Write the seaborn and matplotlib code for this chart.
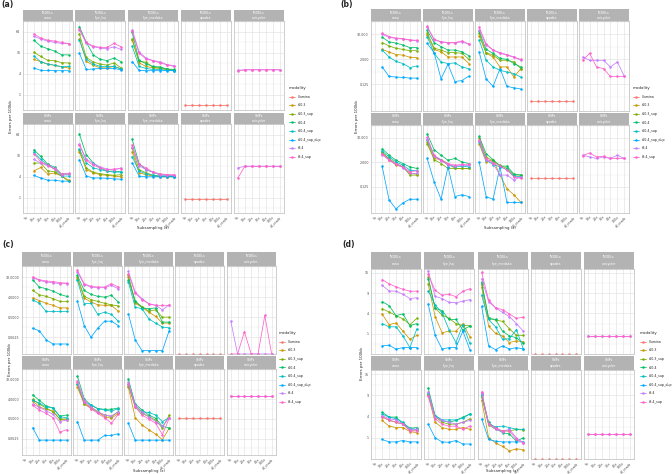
import numpy as np
import pandas as pd
import matplotlib
matplotlib.use("Agg")
import matplotlib.pyplot as plt
from matplotlib.lines import Line2D
from matplotlib.ticker import FixedLocator, NullFormatter
import seaborn as sns

SUBSAMPLING = ["5x", "10x", "20x", "30x", "40x", "100x", "all_reads"]
MODALITIES = ["Illumina", "r10.3", "r10.3_sup", "r10.4", "r10.4_sup",
              "r10.4_sup_dup", "r9.4", "r9.4_sup"]
COLORS = ["#F8766D", "#CD9600", "#7CAE00", "#00BE67", "#00BFC4",
          "#00A9FF", "#C77CFF", "#FF61CC"]
PALETTE = dict(zip(MODALITIES, COLORS))
TOOLS = ["canu", "flye_hq", "flye_medaka", "spades", "unicycler"]
VARIANTS = ["INDELs", "SNPs"]

# ---------------- (a) ----------------
a_indel_canu = {"r10.3": [10.4, 8.9, 7.5, 7.0, 6.3, 5.9],
                "r10.3_sup": [16.6, 12.6, 9.7, 9.6, 8.3, 8.2],
                "r10.4": [37, 25, 21, 18, 14, 14],
                "r10.4_sup": [13.2, 8.8, 7.6, 7.0, 6.4, 6.5],
                "r10.4_sup_dup": [5.9, 5.0, 5.0, 4.9, 4.9, 4.9],
                "r9.4": [48, 40, 35, 32, 30, 29.5],
                "r9.4_sup": [56, 43, 37, 35, 32, 29.5]}
a_indel_flye_hq = {"r10.3": [41, 9.1, 7.0, 5.9, 5.9, 6.5, 5.5],
                   "r10.3_sup": [57, 11.8, 8.7, 7.6, 7.1, 8.2, 5.9],
                   "r10.4": [92, 32, 14, 10.4, 9.6, 11.3, 8.9],
                   "r10.4_sup": [37, 10.6, 7.6, 6.5, 6.5, 6.5, 5.5],
                   "r10.4_sup_dup": [15.6, 5.3, 5.5, 5.7, 5.7, 5.7, 5.2],
                   "r9.4": [75, 30, 24, 22, 21, 24, 20],
                   "r9.4_sup": [79, 32, 25, 23, 23, 30, 24]}
a_indel_flye_medaka = {"r10.3": [38, 8.2, 6.5, 5.9, 5.7, 5.3, 5.0],
                       "r10.3_sup": [41, 9.1, 8.6, 6.1, 5.9, 5.3, 5.0],
                       "r10.4": [62, 9.7, 7.8, 6.5, 6.3, 5.5, 5.3],
                       "r10.4_sup": [25, 6.5, 5.7, 5.3, 5.3, 5.0, 4.9],
                       "r10.4_sup_dup": [9.0, 5.0, 4.9, 4.9, 4.9, 4.9, 4.9],
                       "r9.4": [75, 17, 11.3, 9.6, 8.9, 7.3, 6.9],
                       "r9.4_sup": [68, 15.6, 10.6, 9.6, 8.2, 7.3, 6.5]}
a_indel_spades = {"Illumina": [0.49] * 7}
a_indel_unicycler = {"r9.4": [5.0, 5.2, 5.2, 5.2, 5.2, 5.2, 5.2],
                     "r9.4_sup": [4.8, 5.2, 5.2, 5.2, 5.2, 5.2, 5.2]}
a_snp_canu = {"r10.3": [5.9, 7.4, 4.8, 5.1, 4.2, 3.2],
              "r10.3_sup": [9.9, 9.9, 5.9, 5.6, 4.2, 3.0],
              "r10.4": [24, 15.3, 9.2, 7.5, 4.8, 4.8],
              "r10.4_sup": [20, 12.6, 8.6, 6.6, 4.2, 4.2],
              "r10.4_sup_dup": [4.4, 3.7, 3.2, 3.2, 3.0, 3.0],
              "r9.4": [12.6, 9.9, 8.3, 7.0, 4.5, 4.8],
              "r9.4_sup": [18.5, 10.7, 8.6, 6.6, 4.8, 5.0]}
a_snp_flye_hq = {"r10.3": [21, 6.4, 5.2, 4.6, 4.4, 4.2, 4.0],
                 "r10.3_sup": [23, 7.2, 5.4, 4.9, 4.6, 4.4, 4.6],
                 "r10.4": [67, 17, 10, 7.2, 5.8, 5.8, 5.5],
                 "r10.4_sup": [24.5, 10, 7.2, 6.4, 5.8, 5.4, 5.5],
                 "r10.4_sup_dup": [12.3, 4.2, 3.7, 3.7, 3.6, 3.5, 3.4],
                 "r9.4": [34, 12.8, 9.6, 7.6, 6.7, 6.2, 7.2],
                 "r9.4_sup": [33, 11.8, 8.6, 7.2, 6.4, 6.7, 6.9]}
a_snp_flye_medaka = {"r10.3": [21, 5.2, 4.6, 4.2, 4.0, 4.0, 4.0],
                     "r10.3_sup": [26, 6.4, 5.2, 4.4, 4.2, 4.0, 4.2],
                     "r10.4": [47, 9.6, 6.4, 5.4, 4.6, 4.4, 4.2],
                     "r10.4_sup": [15, 5.8, 4.9, 4.4, 4.2, 4.2, 4.0],
                     "r10.4_sup_dup": [10, 4.2, 4.0, 4.0, 4.0, 4.0, 4.0],
                     "r9.4": [29, 8.3, 6.4, 5.4, 4.6, 4.4, 4.4],
                     "r9.4_sup": [33, 9.0, 7.2, 5.4, 4.9, 4.6, 4.6]}
a_snp_spades = {"Illumina": [0.9] * 7}
a_snp_unicycler = {"r9.4": [7.2, 8, 8, 8, 8, 8, 8],
                   "r9.4_sup": [3.7, 8, 8, 8, 8, 8, 8]}

# ---------------- (b) ----------------
b_indel_canu = {"r10.3": [6.0, 4.5, 3.4, 3.2, 2.5, 2.4],
                "r10.3_sup": [12.8, 8.8, 6.8, 6.0, 5.2, 5.2],
                "r10.4": [23, 14, 12, 9.8, 7.3, 7.3],
                "r10.4_sup": [5.6, 2.6, 1.6, 1.25, 0.8, 0.96],
                "r10.4_sup_dup": [0.86, 0.3, 0.28, 0.27, 0.25, 0.25],
                "r9.4": [32, 23, 20, 19, 16.6, 16],
                "r9.4_sup": [36, 25, 21, 20, 17, 16.6]}
b_indel_flye_hq = {"r10.3": [30, 6.0, 4.6, 2.6, 2.6, 2.6, 1.25],
                   "r10.3_sup": [39, 6.8, 5.6, 4.2, 4.2, 3.9, 2.0],
                   "r10.4": [49, 12.8, 8.2, 5.6, 5.6, 4.6, 3.0],
                   "r10.4_sup": [25, 3.9, 1.5, 1.25, 1.35, 0.86, 0.71],
                   "r10.4_sup_dup": [11.8, 4.2, 0.23, 1.16, 0.17, 0.19, 0.31],
                   "r9.4": [71, 17, 13.8, 12.3, 12.3, 14, 10.6],
                   "r9.4_sup": [77, 18.6, 14, 12.8, 12.8, 15.4, 11]}
b_indel_flye_medaka = {"r10.3": [27, 3.9, 2.6, 0.86, 0.86, 0.28, 0.71],
                       "r10.3_sup": [36, 4.2, 3.2, 1.8, 1.8, 1.5, 0.71],
                       "r10.4": [44, 6.0, 3.9, 2.2, 2.0, 1.25, 0.86],
                       "r10.4_sup": [17, 1.8, 0.86, 0.59, 0.49, 0.41, 0.28],
                       "r10.4_sup_dup": [4.6, 0.23, 0.1, 0.71, 0.1, 0.085, 0.075],
                       "r9.4": [53, 9.8, 5.6, 4.2, 3.4, 2.6, 1.8],
                       "r9.4_sup": [71, 11, 5.6, 3.9, 3.2, 2.5, 2.0]}
b_indel_spades = {"Illumina": [0.02] * 7}
b_indel_unicycler = {"r9.4": [2.6, 1.8, 1.8, 1.8, 0.86, 1.5, 0.3],
                     "r9.4_sup": [1.8, 3.9, 0.86, 0.71, 0.3, 0.3, 0.3]}
b_snp_canu = {"r10.3": [6.5, 2.75, 1.45, 1.2, 0.57, 0.53],
              "r10.3_sup": [5.8, 3.1, 1.75, 1.2, 0.47, 0.47],
              "r10.4": [9.5, 4.5, 2.55, 1.75, 1.2, 1.0],
              "r10.4_sup": [7.3, 3.7, 2.1, 1.45, 0.83, 0.77],
              "r10.4_sup_dup": [1.3, 0.028, 0.01, 0.02, 0.03, 0.03],
              "r9.4": [4.8, 2.55, 1.6, 1.1, 0.57, 0.57],
              "r9.4_sup": [5.4, 2.75, 1.75, 1.2, 0.69, 0.77]}
b_snp_flye_hq = {"r10.3": [20, 3.1, 2.75, 1.75, 1.0, 1.0, 1.0],
                 "r10.3_sup": [16.6, 2.75, 1.75, 1.0, 1.0, 1.0, 1.0],
                 "r10.4": [51, 8.5, 4.5, 2.55, 3.1, 2.1, 1.75],
                 "r10.4_sup": [26, 4.0, 2.75, 1.45, 1.2, 1.3, 1.2],
                 "r10.4_sup_dup": [3.1, 0.22, 0.03, 1.2, 0.041, 0.05, 0.041],
                 "r9.4": [29, 4.0, 2.35, 1.55, 1.3, 1.4, 1.4],
                 "r9.4_sup": [35, 4.5, 2.55, 1.75, 1.45, 1.6, 1.6]}
b_snp_flye_medaka = {"r10.3": [16.6, 2.1, 2.75, 0.47, 0.1, 0.05, 0.021],
                     "r10.3_sup": [33, 3.7, 2.35, 1.45, 1.0, 0.47, 0.47],
                     "r10.4": [38, 5.4, 2.75, 1.3, 1.3, 0.53, 0.47],
                     "r10.4_sup": [20, 2.55, 1.55, 1.2, 0.89, 0.42, 0.39],
                     "r10.4_sup_dup": [2.1, 0.041, 0.03, 1.2, 0.021, 0.021, 0.021],
                     "r9.4": [24, 2.75, 1.75, 0.47, 0.47, 0.27, 0.39],
                     "r9.4_sup": [26, 3.1, 1.95, 1.35, 0.83, 0.39, 0.32]}
b_snp_spades = {"Illumina": [0.35] * 7}
b_snp_unicycler = {"r9.4": [4.5, 3.7, 3.1, 3.7, 3.1, 4.5, 3.1],
                   "r9.4_sup": [4.3, 5.8, 3.7, 4.0, 3.1, 3.1, 3.1]}

# ---------------- (c) ----------------
c_indel_canu = {"r10.3": [3.6, 2.8, 2.1, 1.7, 1.3, 1.3],
                "r10.3_sup": [8.0, 5.1, 4.3, 3.4, 2.55, 2.55],
                "r10.4": [24, 11.3, 9.5, 7.5, 5.3, 4.3],
                "r10.4_sup": [3.0, 2.1, 0.9, 0.9, 0.9, 0.9],
                "r10.4_sup_dup": [0.16, 0.12, 0.048, 0.031, 0.031, 0.031],
                "r9.4": [30, 22.6, 19, 17.7, 16, 16],
                "r9.4_sup": [32, 24, 21, 20, 17.7, 17]}
c_indel_flye_hq = {"r10.3": [27, 3.6, 2.4, 1.8, 1.7, 1.7, 0.93],
                   "r10.3_sup": [32, 4.3, 3.1, 2.55, 2.1, 1.8, 1.6],
                   "r10.4": [38, 8.0, 5.3, 4.3, 4.0, 4.8, 2.4],
                   "r10.4_sup": [22.6, 2.0, 2.1, 0.66, 0.84, 0.66, 0.33],
                   "r10.4_sup_dup": [2.6, 0.21, 0.0625, 0.16, 0.33, 0.33, 0.21],
                   "r9.4": [54, 14.4, 11.3, 10.6, 10.6, 13.5, 9.5],
                   "r9.4_sup": [64, 16, 12, 11.3, 11.3, 16, 11.3]}
c_indel_flye_medaka = {"r10.3": [32, 2.1, 1.4, 0.84, 0.54, 0.27, 0.27],
                       "r10.3_sup": [38, 2.4, 1.5, 0.93, 1.07, 0.5, 0.5],
                       "r10.4": [24, 2.8, 1.3, 1.2, 1.3, 0.3, 0.3],
                       "r10.4_sup": [19, 1.4, 1.2, 0.42, 0.27, 0.18, 0.165],
                       "r10.4_sup_dup": [0.7, 0.048, 0.0156, 0.0156, 0.0156, 0.0156, 0.125],
                       "r9.4": [57, 6.7, 3.4, 2.0, 1.7, 1.07, 1.8],
                       "r9.4_sup": [45, 6.0, 3.1, 2.0, 1.7, 1.7, 1.7]}
c_indel_spades = {"Illumina": [0] * 7}
c_indel_unicycler = {"r9.4": [0.33, 0, 0, 0, 0, 0, 0],
                     "r9.4_sup": [0, 0, 0.11, 0, 0, 0.6, 0]}
c_snp_canu = {"r10.3": [3.4, 1.8, 1.4, 1.15, 0.5, 0.45],
              "r10.3_sup": [4.0, 2.4, 1.6, 1.07, 0.5, 0.5],
              "r10.4": [6.5, 3.6, 2.0, 1.6, 0.68, 0.76],
              "r10.4_sup": [3.6, 2.7, 1.8, 1.6, 0.64, 0.57],
              "r10.4_sup_dup": [0.2, 0.053, 0.053, 0.053, 0.053, 0.053],
              "r9.4": [2.5, 1.7, 1.2, 0.81, 0.38, 0.45],
              "r9.4_sup": [2.1, 1.3, 0.9, 0.57, 0.125, 0.16]}
c_snp_flye_hq = {"r10.3": [14.4, 2.5, 1.5, 1.07, 0.64, 0.54, 0.9],
                 "r10.3_sup": [20, 2.5, 1.8, 1.07, 0.76, 0.64, 1.07],
                 "r10.4": [48, 4.3, 2.1, 1.5, 1.4, 1.4, 1.6],
                 "r10.4_sup": [20, 3.0, 2.3, 1.5, 1.3, 1.15, 1.5],
                 "r10.4_sup_dup": [0.38, 0.053, 0.053, 0.053, 0.088, 0.088, 0.105],
                 "r9.4": [29, 3.6, 1.8, 1.07, 0.76, 0.7, 1.07],
                 "r9.4_sup": [24, 3.0, 1.5, 0.9, 0.57, 0.32, 0.81]}
c_snp_flye_medaka = {"r10.3": [14.4, 0.57, 0.27, 0.16, 0.1, 0.056, 0.19],
                     "r10.3_sup": [17, 1.8, 0.9, 0.64, 0.45, 0.19, 0.76],
                     "r10.4": [34, 2.5, 1.3, 0.76, 0.54, 0.23, 0.19],
                     "r10.4_sup": [20, 2.1, 1.07, 1.0, 0.76, 0.38, 0.57],
                     "r10.4_sup_dup": [0.32, 0.053, 0.053, 0.053, 0.053, 0.053, 0.053],
                     "r9.4": [24, 2.1, 1.07, 0.64, 0.38, 0.23, 0.57],
                     "r9.4_sup": [20, 1.8, 0.76, 0.5, 0.32, 0.095, 0.54]}
c_snp_spades = {"Illumina": [0.57] * 7}
c_snp_unicycler = {"r9.4": [6.0] * 7,
                   "r9.4_sup": [6.0] * 7}

# ---------------- (d) ----------------
d_indel_canu = {"r10.3": [3.9, 2.1, 2.35, 1.27, 0.53, 0.85],
                "r10.3_sup": [5.0, 4.3, 3.6, 3.0, 2.1, 3.1],
                "r10.4": [6.7, 5.7, 3.6, 3.9, 1.97, 2.25],
                "r10.4_sup": [2.25, 1.8, 1.8, 0.79, 0.1, 1.54],
                "r10.4_sup_dup": [0.16, 0.19, 0.06, 0.1, 0.1, 0.1],
                "r9.4": [11.5, 9.7, 9.6, 8.7, 7.5, 7.7],
                "r9.4_sup": [13.5, 12, 11, 10.2, 9.6, 9.6]}
d_indel_flye_hq = {"r10.3": [12, 3.4, 1.1, 1.27, 1.27, 2.25, 0.73],
                   "r10.3_sup": [14.4, 5.1, 3.7, 3.1, 2.25, 1.96, 1.96],
                   "r10.4": [13.8, 5.1, 4.6, 2.9, 2.9, 1.4, 1.9],
                   "r10.4_sup": [9.7, 5.9, 4.1, 1.46, 0.32, 2.1, 0.27],
                   "r10.4_sup_dup": [6.1, 0.85, 0.06, 0.1, 0.1, 1.27, 0.045],
                   "r9.4": [16.9, 8.1, 7.5, 6.5, 6.4, 6.8, 7.2],
                   "r9.4_sup": [15.4, 9.9, 8.4, 8.7, 8.0, 9.6, 10.4]}
d_indel_flye_medaka = {"r10.3": [10.9, 1.9, 1.03, 0.79, 0.32, 0.42, 0.36],
                       "r10.3_sup": [12, 3.1, 2.8, 2.6, 1.54, 0.85, 0.85],
                       "r10.4": [12.6, 3.1, 2.9, 1.27, 0.79, 0.65, 0.28],
                       "r10.4_sup": [8.4, 2.9, 1.8, 0.53, 0.57, 1.46, 0.06],
                       "r10.4_sup_dup": [5.5, 0.16, 0.045, 0.16, 0.06, 0.1, 0.06],
                       "r9.4": [13.8, 6.7, 5.2, 4.2, 3.4, 2.25, 1.27],
                       "r9.4_sup": [16.2, 7.1, 5.2, 4.8, 3.9, 3.1, 3.3]}
d_indel_spades = {"Illumina": [0] * 7}
d_indel_unicycler = {"r9.4": [0.79] * 7,
                     "r9.4_sup": [0.79] * 7}
d_snp_canu = {"r10.3": [3.3, 2.4, 2.2, 2.2, 1.67, 1.54],
              "r10.3_sup": [4.0, 3.3, 3.0, 2.7, 1.85, 1.85],
              "r10.4": [4.9, 3.9, 3.9, 2.8, 2.1, 2.2],
              "r10.4_sup": [4.5, 3.9, 3.6, 3.0, 2.06, 1.96],
              "r10.4_sup_dup": [0.85, 0.65, 0.65, 0.76, 0.65, 0.65],
              "r9.4": [4.2, 3.6, 3.4, 2.7, 1.96, 1.96],
              "r9.4_sup": [3.9, 3.4, 3.0, 2.7, 1.75, 1.75]}
d_snp_flye_hq = {"r10.3": [9.1, 3.0, 2.2, 1.96, 1.96, 2.2, 1.96],
                 "r10.3_sup": [9.4, 4.0, 3.0, 2.7, 2.7, 3.0, 3.6],
                 "r10.4": [11.2, 4.2, 3.3, 3.0, 3.3, 3.9, 4.5],
                 "r10.4_sup": [9.6, 4.2, 3.4, 3.4, 3.4, 3.7, 4.5],
                 "r10.4_sup_dup": [2.7, 1.0, 0.65, 0.62, 0.76, 0.5, 0.5],
                 "r9.4": [10.1, 3.9, 3.3, 3.0, 2.7, 3.0, 3.3],
                 "r9.4_sup": [8.8, 3.6, 2.7, 2.4, 2.4, 1.96, 2.4]}
d_snp_flye_medaka = {"r10.3": [7.7, 1.0, 0.58, 0.35, 0.15, 0.23, 0.19],
                     "r10.3_sup": [8.6, 2.6, 1.96, 1.75, 1.75, 1.96, 1.85],
                     "r10.4": [9.4, 3.0, 2.1, 1.54, 1.4, 0.7, 1.0],
                     "r10.4_sup": [9.1, 2.7, 2.3, 2.4, 2.2, 1.96, 1.96],
                     "r10.4_sup_dup": [3.6, 0.85, 0.7, 0.65, 0.65, 0.65, 0.65],
                     "r9.4": [9.6, 2.7, 1.96, 1.67, 1.96, 1.0, 0.58],
                     "r9.4_sup": [10.1, 2.7, 2.2, 1.75, 1.75, 0.85, 0.58]}
d_snp_spades = {"Illumina": [0] * 7}
d_snp_unicycler = {"r9.4": [1.35] * 7,
                   "r9.4_sup": [1.35] * 7}

PANELS = {
    "a": [[a_indel_canu, a_indel_flye_hq, a_indel_flye_medaka, a_indel_spades, a_indel_unicycler],
          [a_snp_canu, a_snp_flye_hq, a_snp_flye_medaka, a_snp_spades, a_snp_unicycler]],
    "b": [[b_indel_canu, b_indel_flye_hq, b_indel_flye_medaka, b_indel_spades, b_indel_unicycler],
          [b_snp_canu, b_snp_flye_hq, b_snp_flye_medaka, b_snp_spades, b_snp_unicycler]],
    "c": [[c_indel_canu, c_indel_flye_hq, c_indel_flye_medaka, c_indel_spades, c_indel_unicycler],
          [c_snp_canu, c_snp_flye_hq, c_snp_flye_medaka, c_snp_spades, c_snp_unicycler]],
    "d": [[d_indel_canu, d_indel_flye_hq, d_indel_flye_medaka, d_indel_spades, d_indel_unicycler],
          [d_snp_canu, d_snp_flye_hq, d_snp_flye_medaka, d_snp_spades, d_snp_unicycler]],
}

# y scales (as in the ggplot panels)
SCALES = {
    "a": dict(kind="log", ylim=(0.36, 130), ticks=[1, 4, 16, 64],
              labels=["1", "4", "16", "64"], minor=[0.5, 2, 8, 32, 128]),
    "b": dict(kind="log", ylim=(0.0065, 140), ticks=[0.125, 2, 32],
              labels=["0.125", "2.000", "32.000"], minor=[0.03125, 0.5, 8, 128]),
    "c": dict(kind="log", ylim=(0.011, 100), ticks=[0.0625, 0.5, 4, 32],
              labels=["0.0625", "0.5000", "4.0000", "32.0000"],
              minor=[0.0221, 0.177, 1.414, 11.3, 90.5]),
    "d": dict(kind="sqrt", ylim=(0, 17.6), ticks=[1, 4, 9, 16],
              labels=["1", "4", "9", "16"], minor=[0.25, 2.25, 6.25, 12.25]),
}

# pixel layout of each block (left edges of columns, strip / panel rows)
LAYOUT = {
    "a": dict(cols=[22.7, 75.2, 128, 180.8, 233.7], w=50,
              rows=[(10, 21.3, 110), (112.7, 124, 213.3)],
              tag=(1, 5), ylab=(11, 117), xlab=(153, 228), leg=(289, 86)),
    "b": dict(cols=[371, 423, 475, 527, 578.5], w=50,
              rows=[(9.3, 21, 111), (113, 125, 212.7)],
              tag=(340, 5), ylab=(357, 117), xlab=(500, 228), leg=(633, 86)),
    "c": dict(cols=[21.7, 73.3, 124.3, 175.3, 226.7], w=49,
              rows=[(252, 266, 354), (356, 369, 455)],
              tag=(2, 244), ylab=(10, 360), xlab=(149, 471), leg=(279, 331)),
    "d": dict(cols=[371, 424, 477.5, 530.5, 583.7], w=50,
              rows=[(252, 269, 354), (356, 370, 459)],
              tag=(342, 244), ylab=(362, 364), xlab=(502, 471), leg=(640, 331)),
}

W, H = 672, 474
GREY70 = "#B3B3B3"
GRID = "#DEDEDE"


def box(x0, y0, x1, y1):
    return [x0 / W, 1 - y1 / H, (x1 - x0) / W, (y1 - y0) / H]


def long_frame(series):
    rows = []
    for mod, vals in series.items():
        start = len(SUBSAMPLING) - len(vals)
        for i, v in enumerate(vals):
            rows.append((mod, start + i, v))
    return pd.DataFrame(rows, columns=["modality", "x", "errors"])


def sqrt_fwd(v):
    v = np.asarray(v, dtype=float)
    return np.sign(v) * np.sqrt(np.abs(v))


def sqrt_inv(v):
    v = np.asarray(v, dtype=float)
    return np.sign(v) * v ** 2


sns.set_theme(style="white")
plt.rcParams["font.family"] = ["DejaVu Sans"]
fig = plt.figure(figsize=(W / 100, H / 100), dpi=100)
fig.patch.set_facecolor("white")

for key, grid in PANELS.items():
    lay = LAYOUT[key]
    sc = SCALES[key]
    for r, variant in enumerate(VARIANTS):
        s0, p0, p1 = lay["rows"][r]
        for c, tool in enumerate(TOOLS):
            x0 = lay["cols"][c]
            x1 = x0 + lay["w"]
            # strip
            sax = fig.add_axes(box(x0, s0, x1, p0))
            sax.set_facecolor(GREY70)
            sax.set_xticks([])
            sax.set_yticks([])
            for sp in sax.spines.values():
                sp.set_visible(False)
            sax.text(0.5, 0.72, variant, color="white", fontsize=2.3,
                     ha="center", va="center", transform=sax.transAxes)
            sax.text(0.5, 0.27, tool, color="white", fontsize=2.3,
                     ha="center", va="center", transform=sax.transAxes)

            ax = fig.add_axes(box(x0, p0, x1, p1))
            df = long_frame(grid[r][c])
            if sc["kind"] == "log":
                ax.set_yscale("log", base=2)
                df["shown"] = df["errors"].clip(lower=sc["ylim"][0])
            else:
                ax.set_yscale("function", functions=(sqrt_fwd, sqrt_inv))
                df["shown"] = df["errors"]
            sns.lineplot(data=df, x="x", y="shown", hue="modality",
                         palette=PALETTE, estimator=None, sort=False,
                         marker="o", markersize=1.8, markeredgewidth=0,
                         linewidth=0.55, legend=False, ax=ax)
            ax.set_ylim(*sc["ylim"])
            ax.set_xlim(-0.6, 6.6)
            ax.set_xlabel("")
            ax.set_ylabel("")
            ax.set_facecolor("white")
            ax.yaxis.set_major_locator(FixedLocator(sc["ticks"]))
            ax.yaxis.set_minor_locator(FixedLocator(sc["minor"]))
            ax.yaxis.set_minor_formatter(NullFormatter())
            ax.set_xticks(range(len(SUBSAMPLING)))
            ax.grid(True, which="major", color=GRID, linewidth=0.4)
            ax.grid(True, which="minor", axis="y", color=GRID, linewidth=0.2)
            ax.set_axisbelow(True)
            for sp in ax.spines.values():
                sp.set_color(GREY70)
                sp.set_linewidth(0.45)
            ax.tick_params(which="both", length=0.8, width=0.3,
                           color=GREY70, pad=0.8, labelsize=2.3,
                           labelcolor="#4D4D4D")
            ax.tick_params(which="minor", length=0)
            if c == 0:
                ax.set_yticklabels(sc["labels"])
            else:
                ax.set_yticklabels([])
            if r == 1:
                ax.set_xticklabels(SUBSAMPLING, rotation=45, ha="right",
                                   rotation_mode="anchor")
            else:
                ax.set_xticklabels([])

    tx, ty = lay["tag"]
    fig.text(tx / W, 1 - ty / H, "(" + key + ")", fontsize=5.5,
             fontweight="bold", ha="left", va="center")
    lx, ly = lay["ylab"]
    fig.text(lx / W, 1 - ly / H, "Errors per 100kb", fontsize=2.8,
             rotation=90, ha="center", va="center")
    xx, xy = lay["xlab"]
    fig.text(xx / W, 1 - xy / H, "Subsampling (x)", fontsize=2.8,
             ha="center", va="center")

    handles = [Line2D([0], [0], color=PALETTE[m], marker="o", markersize=1.8,
                      markeredgewidth=0, linewidth=0.55) for m in MODALITIES]
    gx, gy = lay["leg"]
    leg = fig.legend(handles, MODALITIES, loc="upper left",
                     bbox_to_anchor=(gx / W, 1 - gy / H), frameon=False,
                     title="modality", fontsize=2.3, title_fontsize=2.9,
                     handlelength=1.8, labelspacing=1.45, borderpad=0,
                     handletextpad=0.8, borderaxespad=0)
    leg._legend_box.align = "left"

fig.savefig("out.png", dpi=100, facecolor="white")
